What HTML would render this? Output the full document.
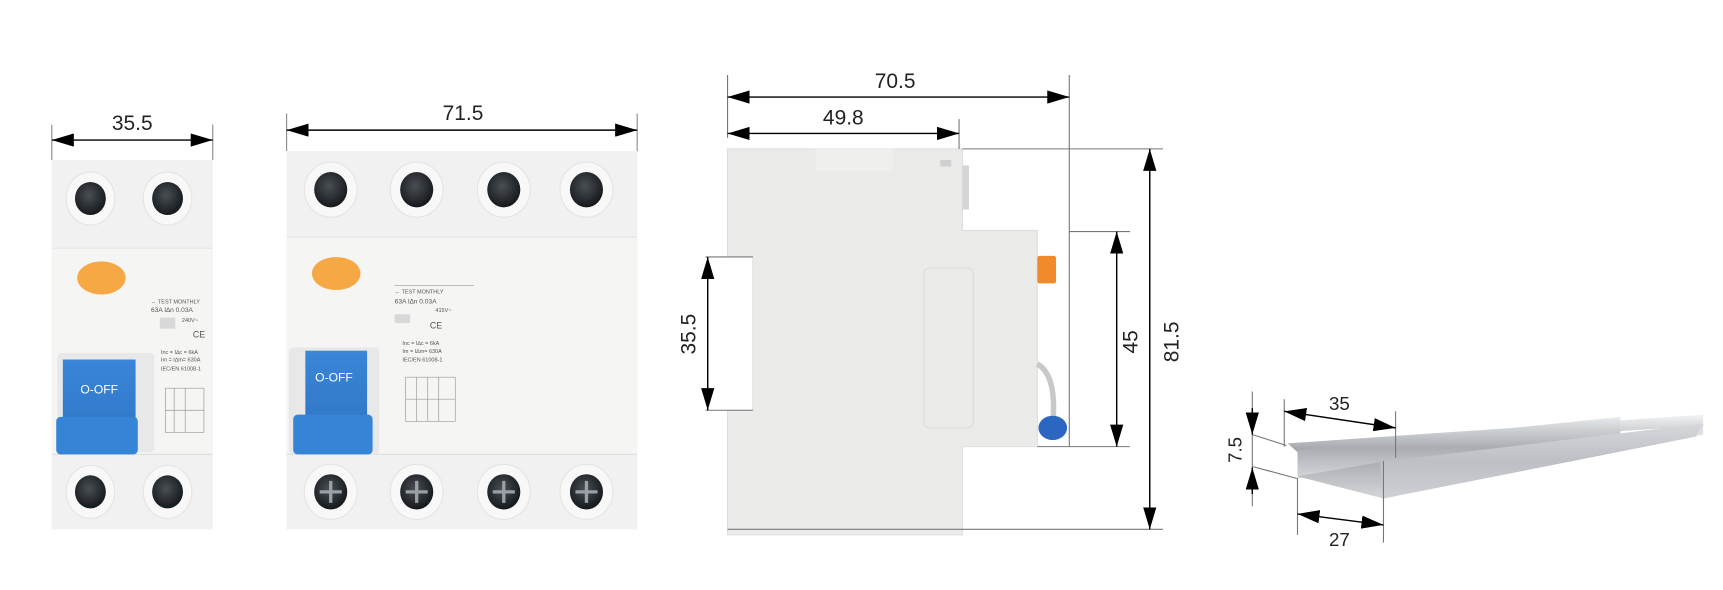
<!DOCTYPE html>
<html><head><meta charset="utf-8"><style>
html,body{margin:0;padding:0;background:#fff;}
svg{display:block;}
text{font-family:"Liberation Sans",sans-serif;}
</style></head><body>
<svg width="1723" height="590" viewBox="0 0 1563 535" preserveAspectRatio="none" xmlns="http://www.w3.org/2000/svg">
<defs>
<marker id="a" viewBox="0 0 20 12" refX="20" refY="6" markerWidth="20" markerHeight="12" markerUnits="userSpaceOnUse" orient="auto-start-reverse"><path d="M0,0 L20,6 L0,12 Z" fill="#000"/></marker>
<linearGradient id="blue" x1="0" y1="0" x2="0" y2="1"><stop offset="0" stop-color="#3a86d8"/><stop offset="1" stop-color="#2f74c4"/></linearGradient>
<radialGradient id="term" cx="0.45" cy="0.4" r="0.6"><stop offset="0" stop-color="#4a4f55"/><stop offset="1" stop-color="#15181b"/></radialGradient>
<linearGradient id="metal" x1="0" y1="0" x2="0" y2="1"><stop offset="0" stop-color="#e8eaec"/><stop offset="0.5" stop-color="#a9adb2"/><stop offset="1" stop-color="#d4d6d9"/></linearGradient>
<linearGradient id="metal2" x1="0" y1="0" x2="0" y2="1"><stop offset="0" stop-color="#f2f3f4"/><stop offset="1" stop-color="#9ea2a7"/></linearGradient>
</defs>
<rect width="1563" height="535" fill="#fff"/>

<!-- ===== Device 1 (2-pole) ===== -->
<g>
<rect x="47" y="145" width="146" height="335" fill="#f1f1f1"/>
<rect x="47" y="225" width="146" height="187" fill="#f5f5f4"/>
<line x1="47" y1="225" x2="193" y2="225" stroke="#e3e3e3"/>
<line x1="47" y1="412" x2="193" y2="412" stroke="#dedede"/>
<g fill="#f8f8f8" stroke="#e4e4e4">
<ellipse cx="82" cy="180" rx="22" ry="24"/><ellipse cx="152" cy="180" rx="22" ry="24"/>
<ellipse cx="82" cy="446" rx="22" ry="24"/><ellipse cx="152" cy="446" rx="22" ry="24"/>
</g>
<g fill="url(#term)"><ellipse cx="82" cy="180" rx="14" ry="15"/><ellipse cx="152" cy="180" rx="14" ry="15"/>
<ellipse cx="82" cy="446" rx="14" ry="15"/><ellipse cx="152" cy="446" rx="14" ry="15"/></g>
<ellipse cx="92" cy="252" rx="22" ry="15" fill="#f6a845"/>
<rect x="52" y="320" width="88" height="90" rx="4" fill="#e8e8e8"/>
<rect x="57" y="326" width="66" height="80" fill="url(#blue)"/>
<rect x="51" y="378" width="74" height="34" rx="4" fill="#3584d6"/>
<text x="90" y="357" font-size="11" fill="#fff" text-anchor="middle">O-OFF</text>
<g font-size="5" fill="#555"><text x="137" y="275">← TEST MONTHLY</text><text x="137" y="283" font-size="6">63A I∆n 0.03A</text><text x="165" y="292">240V~</text><text x="175" y="306" font-size="8">CE</text><text x="146" y="321">Inc = I∆c = 6kA</text><text x="146" y="328">Im = I∆m= 630A</text><text x="146" y="336">IEC/EN 61008-1</text></g>
<rect x="145" y="288" width="14" height="10" fill="#d8d8d8"/>
<path d="M150,352 h35 v40 h-35 z M158,352 v40 M168,352 v40 M150,372 h35" stroke="#999" fill="none" stroke-width="0.6"/>
</g>
<line x1="47" y1="113" x2="47" y2="145" stroke="#888"/><line x1="193" y1="113" x2="193" y2="145" stroke="#888"/>
<line x1="47" y1="127" x2="193" y2="127" stroke="#000" stroke-width="1.3" marker-start="url(#a)" marker-end="url(#a)"/>
<text x="120" y="118" font-size="19" text-anchor="middle" fill="#222">35.5</text>

<!-- ===== Device 2 (4-pole) ===== -->
<g>
<rect x="260" y="137" width="318" height="343" fill="#f1f1f1"/>
<rect x="260" y="215" width="318" height="197" fill="#f5f5f4"/>
<line x1="260" y1="215" x2="578" y2="215" stroke="#e3e3e3"/>
<line x1="260" y1="412" x2="578" y2="412" stroke="#dedede"/>
<g fill="#f8f8f8" stroke="#e4e4e4">
<ellipse cx="300" cy="172" rx="24" ry="25"/><ellipse cx="378" cy="172" rx="24" ry="25"/><ellipse cx="457" cy="172" rx="24" ry="25"/><ellipse cx="532" cy="172" rx="24" ry="25"/>
<ellipse cx="300" cy="446" rx="24" ry="25"/><ellipse cx="378" cy="446" rx="24" ry="25"/><ellipse cx="457" cy="446" rx="24" ry="25"/><ellipse cx="532" cy="446" rx="24" ry="25"/>
</g>
<g fill="url(#term)">
<ellipse cx="300" cy="172" rx="15" ry="16"/><ellipse cx="378" cy="172" rx="15" ry="16"/><ellipse cx="457" cy="172" rx="15" ry="16"/><ellipse cx="532" cy="172" rx="15" ry="16"/>
<ellipse cx="300" cy="446" rx="15" ry="16"/><ellipse cx="378" cy="446" rx="15" ry="16"/><ellipse cx="457" cy="446" rx="15" ry="16"/><ellipse cx="532" cy="446" rx="15" ry="16"/>
</g>
<g stroke="#9aa0a6" stroke-width="3"><path d="M290,446h20M300,436v20M368,446h20M378,436v20M447,446h20M457,436v20M522,446h20M532,436v20"/></g>
<ellipse cx="305" cy="248" rx="22" ry="15" fill="#f6a845"/>
<rect x="262" y="315" width="82" height="97" rx="4" fill="#e8e8e8"/>
<rect x="277" y="318" width="56" height="80" fill="url(#blue)"/>
<rect x="266" y="376" width="72" height="36" rx="4" fill="#3584d6"/>
<text x="303" y="346" font-size="11" fill="#fff" text-anchor="middle">O-OFF</text>
<line x1="358" y1="259" x2="430" y2="259" stroke="#aaa" stroke-width="0.6"/>
<g font-size="5" fill="#555"><text x="358" y="266">← TEST MONTHLY</text><text x="358" y="275" font-size="6">63A I∆n 0.03A</text><text x="395" y="283">415V~</text><text x="390" y="298" font-size="8">CE</text><text x="365" y="313">Inc = I∆c = 6kA</text><text x="365" y="320">Im = I∆m= 630A</text><text x="365" y="328">IEC/EN 61008-1</text></g>
<rect x="358" y="285" width="14" height="8" fill="#d8d8d8"/>
<path d="M368,342 h45 v40 h-45 z M378,342 v40 M388,342 v40 M398,342 v40 M368,362 h45" stroke="#999" fill="none" stroke-width="0.6"/>
</g>
<line x1="260" y1="103" x2="260" y2="137" stroke="#888"/><line x1="578" y1="103" x2="578" y2="137" stroke="#888"/>
<line x1="260" y1="118" x2="578" y2="118" stroke="#000" stroke-width="1.3" marker-start="url(#a)" marker-end="url(#a)"/>
<text x="420" y="109" font-size="19" text-anchor="middle" fill="#222">71.5</text>

<!-- ===== Side view ===== -->
<g fill="#ebebea" stroke="#dedede">
<path d="M660,135 L873,135 L873,209 L941,209 L941,405 L873,405 L873,485 L660,485 L660,372 L683,372 L683,233 L660,233 Z"/>
</g>
<rect x="740" y="135" width="70" height="20" fill="#efefee"/>
<rect x="838" y="243" width="45" height="145" rx="5" fill="none" stroke="#dcdcdc"/>
<rect x="853" y="145" width="10" height="6" fill="#d0d0d0"/>
<rect x="873" y="150" width="6" height="40" fill="#d6d6d6"/>
<rect x="941" y="232" width="17" height="25" rx="2" fill="#f08a2a"/>
<path d="M941,330 q18,10 14,55" stroke="#c8c8c8" stroke-width="5" fill="none"/>
<ellipse cx="955" cy="388" rx="13" ry="11" fill="#2b66c0"/>
<g stroke="#777" stroke-width="1">
<line x1="660" y1="68" x2="660" y2="125"/>
<line x1="970" y1="68" x2="970" y2="405"/>
<line x1="870" y1="108" x2="870" y2="135"/>
<line x1="873" y1="135" x2="1055" y2="135"/>
<line x1="640" y1="233" x2="683" y2="233"/>
<line x1="640" y1="372" x2="683" y2="372"/>
<line x1="970" y1="210" x2="1025" y2="210"/>
<line x1="941" y1="405" x2="1025" y2="405"/>
<line x1="660" y1="480" x2="1055" y2="480"/>
</g>
<g stroke="#000" stroke-width="1.3">
<line x1="660" y1="88" x2="970" y2="88" marker-start="url(#a)" marker-end="url(#a)"/>
<line x1="660" y1="121" x2="870" y2="121" marker-start="url(#a)" marker-end="url(#a)"/>
<line x1="642" y1="233" x2="642" y2="372" marker-start="url(#a)" marker-end="url(#a)"/>
<line x1="1013" y1="210" x2="1013" y2="405" marker-start="url(#a)" marker-end="url(#a)"/>
<line x1="1043" y1="135" x2="1043" y2="480" marker-start="url(#a)" marker-end="url(#a)"/>
</g>
<g font-size="19" fill="#222" text-anchor="middle">
<text x="812" y="80">70.5</text>
<text x="765" y="113">49.8</text>
<text transform="translate(631,303) rotate(-90)">35.5</text>
<text transform="translate(1032,310) rotate(-90)">45</text>
<text transform="translate(1069,310) rotate(-90)">81.5</text>
</g>

<!-- ===== DIN rail ===== -->
<path d="M1168,402 L1545,376 L1545,386 L1177,410 Z" fill="url(#metal2)"/>
<path d="M1177,408 L1470,378 L1470,394 L1177,434 Z" fill="url(#metal)"/>
<path d="M1177,432 L1252,419 L1545,384 L1538,396 L1255,452 Z" fill="url(#metal)"/>
<path d="M1252,419 L1255,452 L1545,394 L1545,384 Z" fill="#c9ccd0" opacity="0.6"/>
<g stroke="#777" stroke-width="1">
<line x1="1136" y1="355" x2="1136" y2="459"/>
<line x1="1136" y1="394" x2="1167" y2="404"/>
<line x1="1136" y1="423" x2="1177" y2="434"/>
<line x1="1165" y1="362" x2="1165" y2="405"/>
<line x1="1266" y1="373" x2="1266" y2="415"/>
<line x1="1177" y1="434" x2="1177" y2="485"/>
<line x1="1255" y1="418" x2="1255" y2="492"/>
</g>
<g stroke="#000" stroke-width="1.3">
<line x1="1136" y1="370" x2="1136" y2="394" marker-end="url(#a)"/>
<line x1="1136" y1="448" x2="1136" y2="424" marker-end="url(#a)"/>
<line x1="1165" y1="373" x2="1266" y2="388" marker-start="url(#a)" marker-end="url(#a)"/>
<line x1="1177" y1="466" x2="1255" y2="476" marker-start="url(#a)" marker-end="url(#a)"/>
</g>
<g font-size="17" fill="#222" text-anchor="middle">
<text x="1215" y="372">35</text>
<text x="1215" y="495">27</text>
<text transform="translate(1126,408) rotate(-90)">7.5</text>
</g>
</svg>
</body></html>
